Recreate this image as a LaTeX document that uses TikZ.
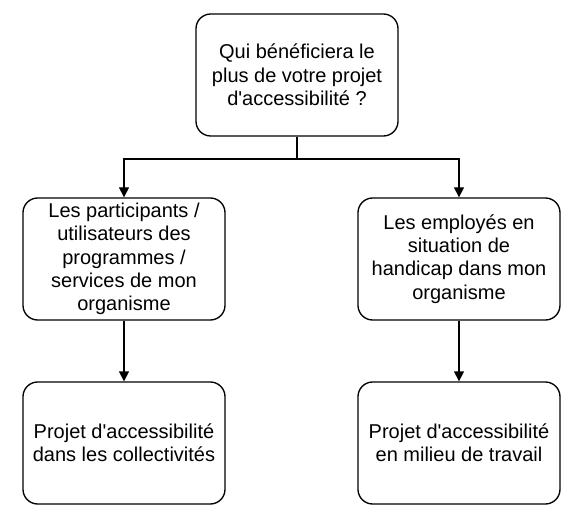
\documentclass[tikz,border=0pt]{standalone}
\usepackage{fontspec}
\setmainfont{Liberation Sans}
\usetikzlibrary{arrows.meta}
\begin{document}
\begin{tikzpicture}[x=0.75pt,y=-0.75pt,
  box/.style={draw, line width=1pt, rounded corners=11pt, minimum width=151.5pt, minimum height=91.5pt, inner sep=0pt, align=center, font=\fontsize{15pt}{17.5pt}\selectfont},
  conn/.style={line width=1pt, -{Triangle[width=7.5pt,length=7.5pt]}}]
\useasboundingbox (0,0) rectangle (574,516);
\node[box] (top) at (297,75) {Qui bénéficiera le\\plus de votre projet\\d\textquotesingle accessibilité ?};
\node[box] (lm) at (124,259) {Les participants /\\utilisateurs des\\programmes /\\services de mon\\organisme};
\node[box] (rm) at (459,259) {Les employés en\\situation de\\handicap dans mon\\organisme};
\node[box] (lb) at (124,443) {Projet d\textquotesingle accessibilité\\dans les collectivités};
\node[box] (rb) at (459,443) {Projet d\textquotesingle accessibilité\\en milieu de travail};
\coordinate (j) at (297,159);
\draw[line width=1pt] (top.south) -- (j);
\draw[conn] (j) -| (lm.north);
\draw[conn] (j) -| (rm.north);
\draw[conn] (lm.south) -- (lb.north);
\draw[conn] (rm.south) -- (rb.north);
\end{tikzpicture}
\end{document}
